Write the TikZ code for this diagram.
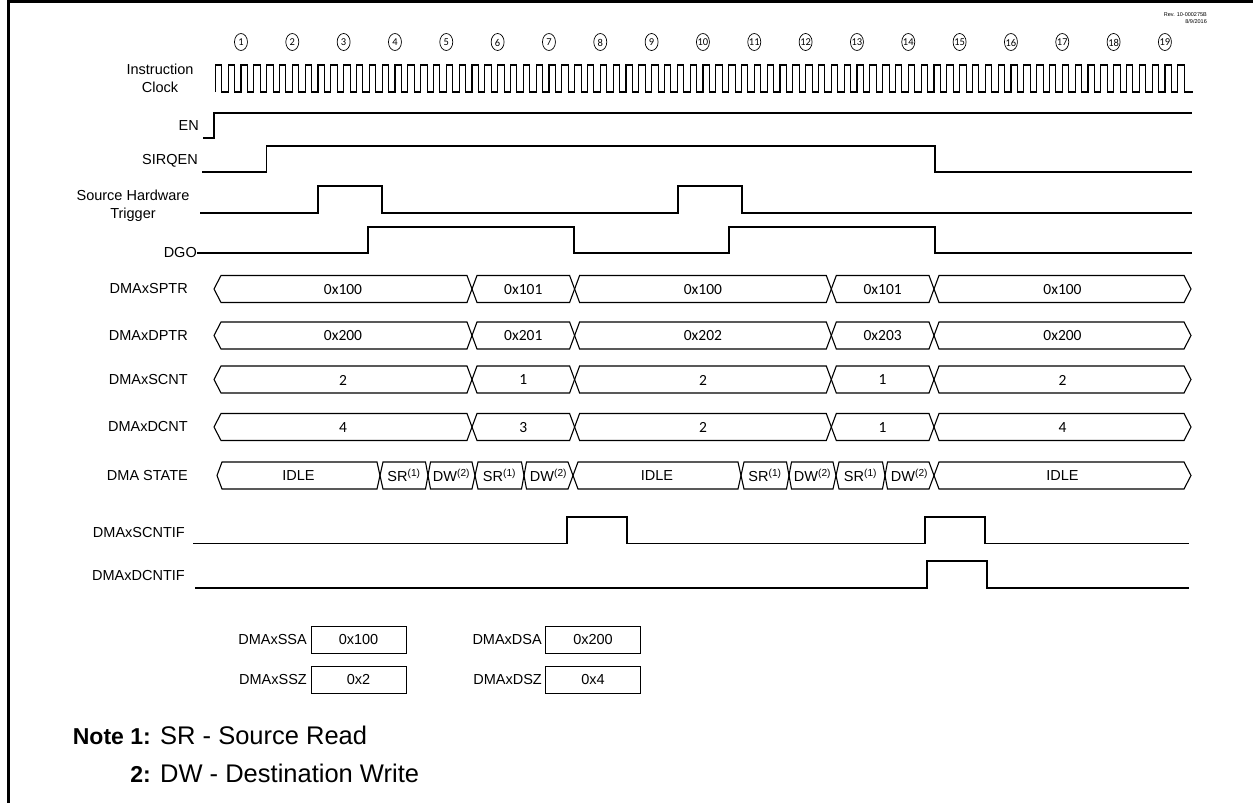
\documentclass[tikz,border=0pt]{standalone}
\usepackage{fontspec}
\setmainfont{Liberation Sans}
\newfontfamily\calfont{Carlito}
\newcommand\bseg[7]{% name, yc, a, b, dl, dr, text
  \draw[sig] (#3,#2) -- ({#3+#5},{#2-13.5}) -- ({#4-#6},{#2-13.5}) -- (#4,#2) -- ({#4-#6},{#2+13.5}) -- ({#3+#5},{#2+13.5}) -- cycle;
  \node[val] (#1) at ({(#3+#4)/2},{#2+0.5}) {#7};}
\newcommand\sseg[7]{% name, yc, a, b, dl, dr, text (Arial)
  \draw[sig] (#3,#2) -- ({#3+#5},{#2-13.5}) -- ({#4-#6},{#2-13.5}) -- (#4,#2) -- ({#4-#6},{#2+13.5}) -- ({#3+#5},{#2+13.5}) -- cycle;
  \node[sval] (#1) at ({(#3+#4)/2},#2) {#7};}
\newcommand\SRt{SR\textsuperscript{(1)}}
\newcommand\DWt{DW\textsuperscript{(2)}}
\begin{document}
\begin{tikzpicture}[x=1pt,y=-1pt,
  sig/.style={line width=1.1pt, line join=miter},
  lab/.style={font=\fontsize{14.5}{18}\selectfont, inner sep=0pt},
  val/.style={font=\calfont\fontsize{15.5}{18}\selectfont, inner sep=0pt},
  sval/.style={font=\fontsize{14.5}{18}\selectfont, inner sep=0pt},
  num/.style={font=\calfont\fontsize{10.5}{10.5}\selectfont, inner sep=0pt},
  regbox/.style={draw, line width=0.9pt, minimum width=95pt, minimum height=27pt, inner sep=0pt, font=\fontsize{14.5}{18}\selectfont},
  note/.style={font=\fontsize{25.5}{30}\selectfont, inner sep=0pt},
  notehead/.style={font=\bfseries\fontsize{23}{30}\selectfont, inner sep=0pt}]
\useasboundingbox (0,0) rectangle (1253,803);
% frame
\draw[line width=2.5pt] (8.5,803) -- (8.5,1.5) -- (1253,1.5);
% revision
\node[anchor=east, font=\fontsize{5.5}{6}\selectfont, inner sep=0pt] (rev) at (1207,15) {Rev. 10-000275B};
\node[anchor=east, font=\fontsize{5.5}{6}\selectfont, inner sep=0pt] (date) at (1207,22) {8/9/2016};
% cycle markers
\foreach \n in {1,...,19} {
  \draw[line width=0.7pt] ({240.97+51.33*(\n-1)},42) ellipse (6.5 and 8.5);
  \node[num] (c\n) at ({240.97+51.33*(\n-1)},42.5) {\n};
}
% clock
\node[lab, align=center] (lclk) at (160,78) {Instruction\\Clock};
\draw[sig] (215.3,92) \foreach \i in {1,...,76} { -- ++(0,-27) -- ++(6.4167,0) -- ++(0,27) -- ++(6.4167,0) } -- ++(2,0);
% EN
\node[lab, anchor=east] (lEN) at (199,126) {EN};
\draw[sig] (203,138) -- (214,138) -- (214,113) -- (1192,113);
% SIRQEN
\node[lab, anchor=east] (lSIRQEN) at (198,161) {SIRQEN};
\draw[sig] (202,172) -- (266.6,172) -- (266.6,146) -- (935,146) -- (935,172) -- (1192,172);
% Source hardware trigger
\node[lab, align=center] (lSHT) at (133,206) {Source Hardware\\Trigger};
\draw[sig] (200,213) -- (318,213) -- (318,186) -- (382,186) -- (382,213) -- (678,213) -- (678,186) -- (742,186) -- (742,213) -- (1192,213);
% DGO
\node[lab, anchor=east] (lDGO) at (197,253) {DGO};
\draw[sig] (lDGO.east) -- (368,253) -- (368,227) -- (574,227) -- (574,253) -- (729,253) -- (729,227) -- (935,227) -- (935,253) -- (1192,253);
% buses
\node[lab, anchor=east] (lSPTR) at (188,289) {DMAxSPTR};
\bseg{sp1}{289}{214}{472}{7}{5}{0x100}
\bseg{sp2}{289}{472}{574.6}{5}{5}{0x101}
\bseg{sp3}{289}{574.6}{831.3}{5}{5}{0x100}
\bseg{sp4}{289}{831.3}{934}{5}{5}{0x101}
\bseg{sp5}{289}{934}{1191}{5}{7}{0x100}
\node[lab, anchor=east] (lDPTR) at (188,335.5) {DMAxDPTR};
\bseg{dp1}{335.5}{214}{472}{7}{5}{0x200}
\bseg{dp2}{335.5}{472}{574.6}{5}{5}{0x201}
\bseg{dp3}{335.5}{574.6}{831.3}{5}{5}{0x202}
\bseg{dp4}{335.5}{831.3}{934}{5}{5}{0x203}
\bseg{dp5}{335.5}{934}{1191}{5}{7}{0x200}
\node[lab, anchor=east] (lSCNT) at (188,379.5) {DMAxSCNT};
\bseg{sc1}{379.5}{214}{472}{7}{5}{2}
\bseg{sc2}{379.5}{472}{574.6}{5}{5}{1}
\bseg{sc3}{379.5}{574.6}{831.3}{5}{5}{2}
\bseg{sc4}{379.5}{831.3}{934}{5}{5}{1}
\bseg{sc5}{379.5}{934}{1191}{5}{7}{2}
\node[lab, anchor=east] (lDCNT) at (188,427) {DMAxDCNT};
\bseg{dc1}{427}{214}{472}{7}{5}{4}
\bseg{dc2}{427}{472}{574.6}{5}{5}{3}
\bseg{dc3}{427}{574.6}{831.3}{5}{5}{2}
\bseg{dc4}{427}{831.3}{934}{5}{5}{1}
\bseg{dc5}{427}{934}{1191}{5}{7}{4}
% DMA state
\node[lab, anchor=east] (lSTATE) at (188,476) {DMA STATE};
\sseg{st1}{475.5}{217}{380}{5}{3}{IDLE}
\sseg{st2}{475.5}{380}{428}{3}{2.5}{\SRt}
\sseg{st3}{475.5}{428}{475}{2.5}{3}{\DWt}
\sseg{st4}{475.5}{475}{524}{3}{2.5}{\SRt}
\sseg{st5}{475.5}{524}{573}{2.5}{5}{\DWt}
\sseg{st6}{475.5}{573}{741}{5}{3}{IDLE}
\sseg{st7}{475.5}{741}{789}{3}{2.5}{\SRt}
\sseg{st8}{475.5}{789}{836}{2.5}{3}{\DWt}
\sseg{st9}{475.5}{836}{885}{3}{2.5}{\SRt}
\sseg{st10}{475.5}{885}{934}{2.5}{5}{\DWt}
\sseg{st11}{475.5}{934}{1191}{5}{7}{IDLE}
% interrupt flags
\node[lab, anchor=east] (lSIF) at (185,533) {DMAxSCNTIF};
\draw[sig] (193,543.5) -- (567,543.5) -- (567,517) -- (627,517) -- (627,543.5) -- (925,543.5) -- (925,517) -- (985,517) -- (985,543.5) -- (1189,543.5);
\node[lab, anchor=east] (lDIF) at (185,576) {DMAxDCNTIF};
\draw[sig] (195,588) -- (927,588) -- (927,561) -- (987,561) -- (987,588) -- (1189,588);
% register boxes
\node[regbox] (bSSA) at (358.5,639.5) {0x100};
\node[lab, anchor=east] (lSSA) at (307,640) {DMAxSSA};
\node[regbox] (bSSZ) at (358.5,680) {0x2};
\node[lab, anchor=east] (lSSZ) at (307,680) {DMAxSSZ};
\node[regbox] (bDSA) at (593,639.5) {0x200};
\node[lab, anchor=east] (lDSA) at (542,640) {DMAxDSA};
\node[regbox] (bDSZ) at (593,680) {0x4};
\node[lab, anchor=east] (lDSZ) at (542,680) {DMAxDSZ};
% notes
\node[notehead, anchor=base east] (n1) at (151,744) {Note 1:};
\node[note, anchor=base west] (n1t) at (160,744) {SR - Source Read};
\node[notehead, anchor=base east] (n2) at (151,782) {2:};
\node[note, anchor=base west] (n2t) at (160,782) {DW - Destination Write};
\end{tikzpicture}
\end{document}
